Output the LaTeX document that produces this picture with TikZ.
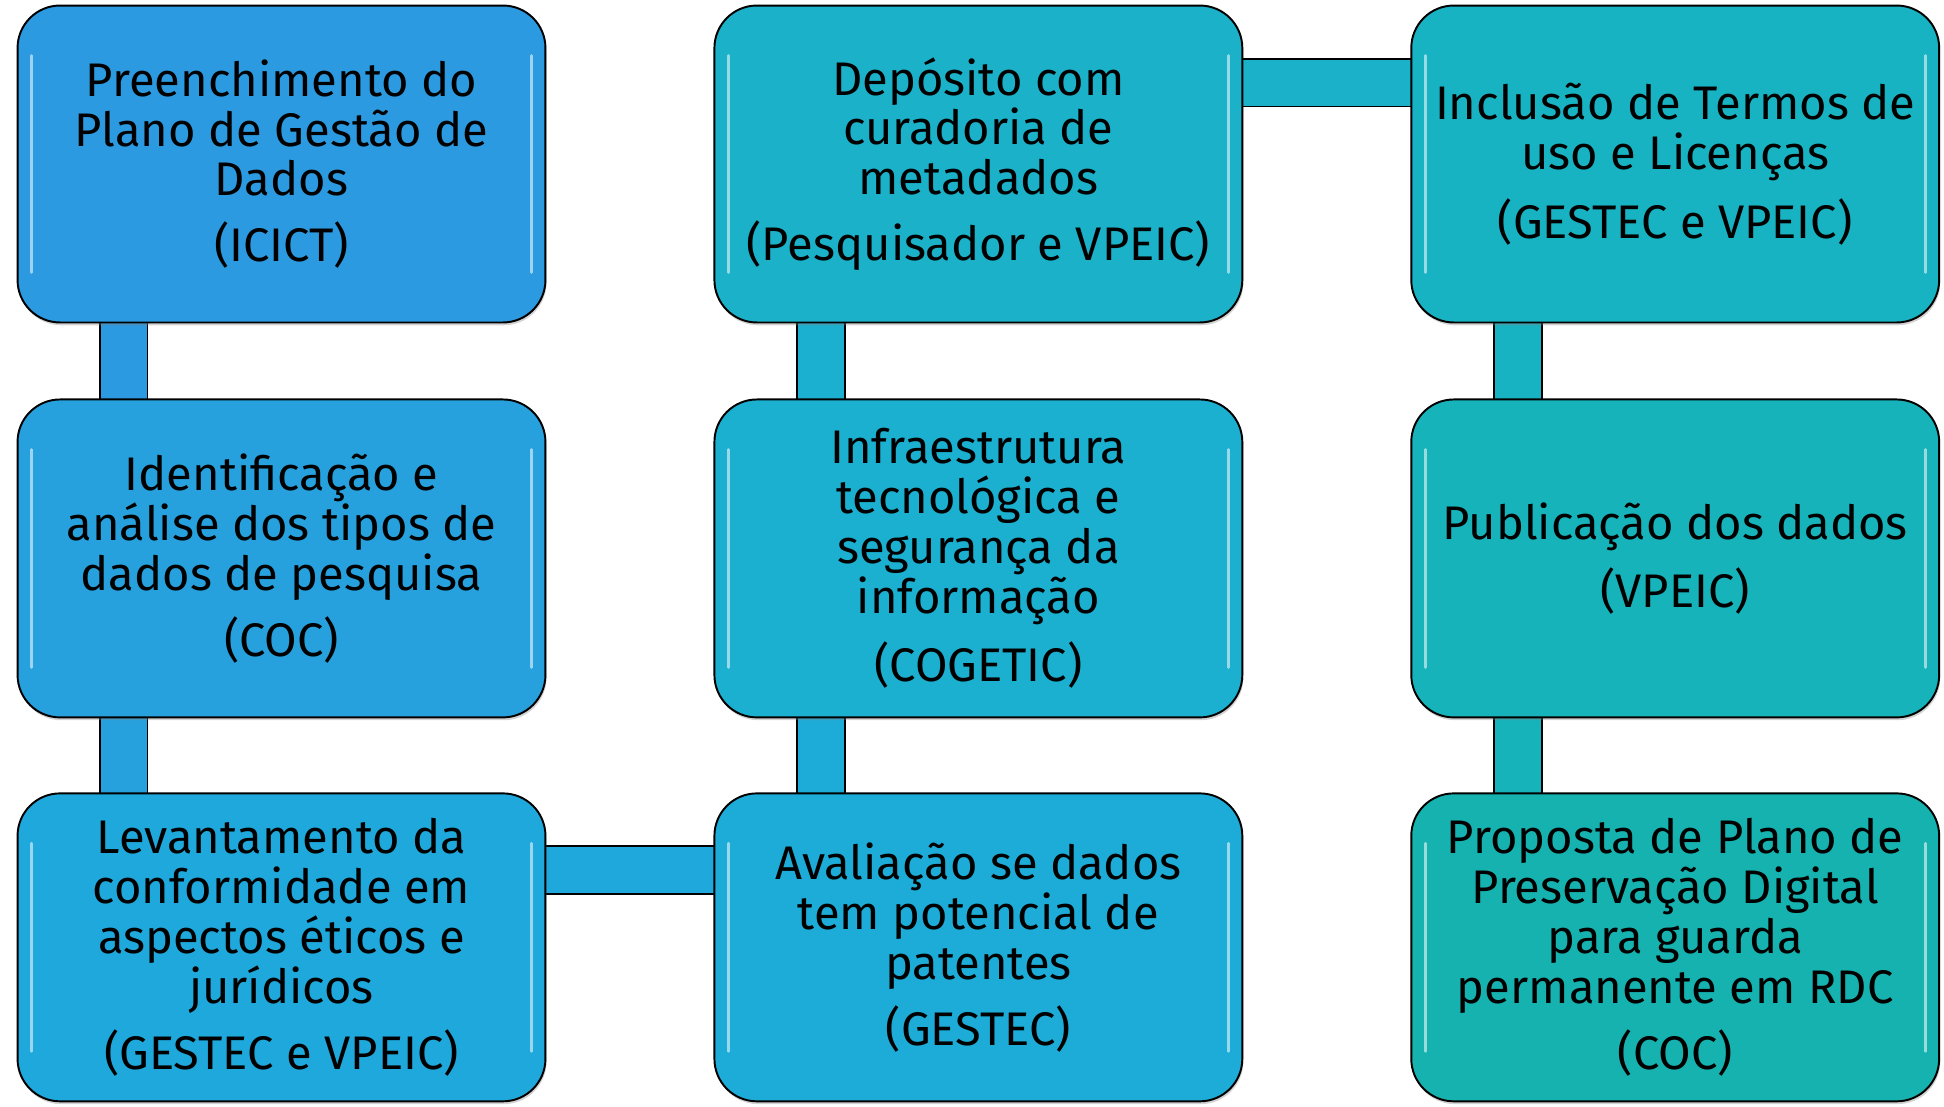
\documentclass[tikz,border=0pt]{standalone}
\usepackage{fontspec}
\setmainfont{Fira Sans}
\usetikzlibrary{positioning,calc,shadows,backgrounds}

\definecolor{stepA}{HTML}{2C9AE0}
\definecolor{stepB}{HTML}{26A1DE}
\definecolor{stepC}{HTML}{1FA8DB}
\definecolor{stepD}{HTML}{1CACD7}
\definecolor{stepE}{HTML}{1BAFD0}
\definecolor{stepF}{HTML}{1AB1C9}
\definecolor{stepG}{HTML}{18B3C2}
\definecolor{stepH}{HTML}{17B3BA}
\definecolor{stepI}{HTML}{16B2B0}

\begin{document}
\begin{tikzpicture}[
    x=0.02cm, y=-0.02cm,
    stepbox/.style={rectangle, draw=black, line width=1.1pt, fill=#1, rounded corners=0.85cm,
        minimum width=10.56cm, minimum height=6.34cm, outer sep=0pt, align=center,
        font=\fontsize{26.8}{28.4}\selectfont,
        drop shadow={shadow xshift=0.6pt, shadow yshift=-1.6pt, opacity=0.35},
        path picture={
            \draw[white, opacity=0.55, line width=1.6pt, line cap=round]
                ($(path picture bounding box.north west)+(14,50)$) -- ($(path picture bounding box.south west)+(14,-50)$);
            \draw[white, opacity=0.55, line width=1.6pt, line cap=round]
                ($(path picture bounding box.north east)+(-14,50)$) -- ($(path picture bounding box.south east)+(-14,-50)$);
        }},
    bar/.style={draw=black, line width=1.1pt, double=#1, double distance=0.92cm}
]
\useasboundingbox (0,0) rectangle (1944,1106);

% First column
\node[stepbox=stepA, at={(281.5,164)}] (pgd) {Preenchimento do\\Plano de Gestão de\\Dados\\[9pt](ICICT)};
\node[stepbox=stepB, below=1.54cm of pgd, minimum height=6.36cm] (tipos) {Identificação e\\análise dos tipos de\\dados de pesquisa\\[9pt](COC)};
\node[stepbox=stepC, below=1.52cm of tipos, minimum height=6.16cm] (etica) {Levantamento da\\conformidade em\\aspectos éticos e\\jurídicos\\[9pt](GESTEC e VPEIC)};

% Second column
\node[stepbox=stepD, right=3.38cm of etica, minimum height=6.16cm] (patente) {Avaliação se dados\\tem potencial de\\patentes\\[9pt](GESTEC)};
\node[stepbox=stepE, right=3.38cm of tipos, minimum height=6.36cm] (infra) {Infraestrutura\\tecnológica e\\segurança da\\informação\\[9pt](COGETIC)};
\node[stepbox=stepF, right=3.38cm of pgd] (deposito) {Depósito com\\curadoria de\\metadados\\[9pt](Pesquisador e VPEIC)};

% Third column
\node[stepbox=stepG, right=3.38cm of deposito] (termos) {Inclusão de Termos de\\uso e Licenças\\[9pt](GESTEC e VPEIC)};
\node[stepbox=stepH, right=3.38cm of infra, minimum height=6.36cm] (publica) {Publicação dos dados\\[9pt](VPEIC)};
\node[stepbox=stepI, right=3.38cm of patente, minimum height=6.16cm] (preserva) {Proposta de Plano de\\Preservação Digital\\para guarda\\permanente em RDC\\[9pt](COC)};

% Connecting bars
\begin{pgfonlayer}{background}
\draw[bar=stepA] ($(pgd.south west)+(106,0)$) -- ($(tipos.north west)+(106,0)$);
\draw[bar=stepB] ($(tipos.south west)+(106,0)$) -- ($(etica.north west)+(106,0)$);
\draw[bar=stepC] ($(etica.north east)+(0,77)$) -- ($(patente.north west)+(0,77)$);
\draw[bar=stepD] ($(patente.north west)+(107,0)$) -- ($(infra.south west)+(107,0)$);
\draw[bar=stepE] ($(infra.north west)+(107,0)$) -- ($(deposito.south west)+(107,0)$);
\draw[bar=stepF] ($(deposito.north east)+(0,77)$) -- ($(termos.north west)+(0,77)$);
\draw[bar=stepG] ($(termos.south west)+(107,0)$) -- ($(publica.north west)+(107,0)$);
\draw[bar=stepH] ($(publica.south west)+(107,0)$) -- ($(preserva.north west)+(107,0)$);
\end{pgfonlayer}

\end{tikzpicture}
\end{document}
